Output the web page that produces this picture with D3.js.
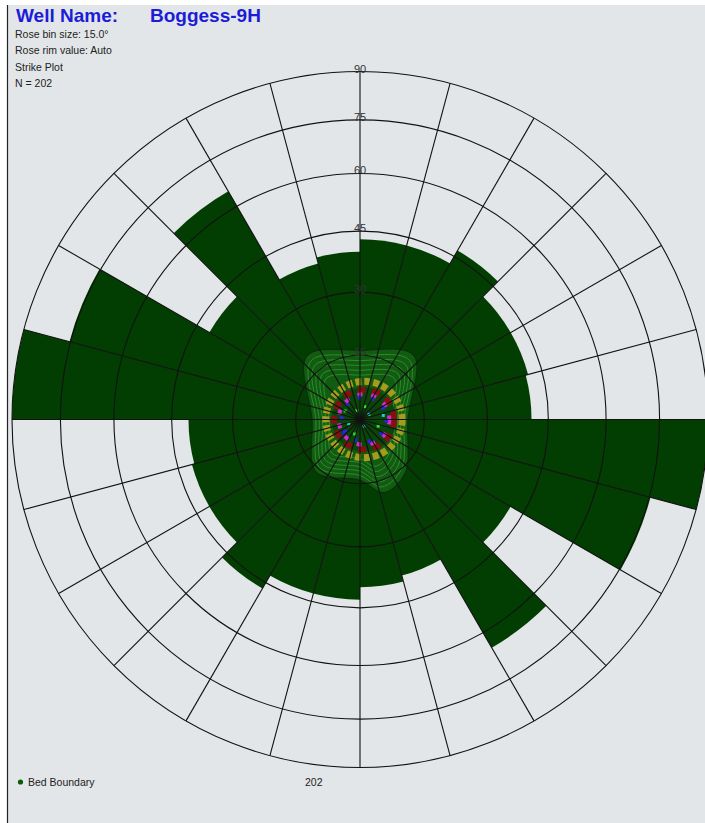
<!DOCTYPE html>
<html>
<head>
<meta charset="utf-8">
<script src="https://cdn.jsdelivr.net/npm/d3@7"></script>
<style>
body { margin: 0; background: #ffffff; }
text { font-family: "Liberation Sans", Arial, sans-serif; }
</style>
</head>
<body>
<div class="container"></div>
<script>
// strike rose, 15 degree bins (0-180, mirrored to 180-360)
const binStarts = [0, 15, 30, 45, 60, 75, 90, 105, 120, 135, 150, 165]
const binCounts = [14.5, 14.5, 15.7, 14, 14, 13.8, 28, 24.2, 14, 21.2, 13, 13.5]
const dipRings = [15, 30, 45, 60, 75, 90]
const spokeAngles = [0, 15, 30, 45, 60, 75, 90, 105, 120, 135, 150, 165,
                     180, 195, 210, 225, 240, 255, 270, 285, 300, 315, 330, 345]
const infoLines = ["Rose bin size: 15.0°", "Rose rim value: Auto", "Strike Plot", "N = 202"]

// bed boundary pole density contours (azimuth / dip of outline, then level scale)
const contourAz = [0, 40, 90, 140, 162, 180, 220, 270, 320]
const contourDip = [16.2, 19.6, 11.2, 16.4, 18.0, 14.2, 16.0, 11.2, 19.4]
const contourLevels = [1, 0.92, 0.85, 0.78, 0.71, 0.64]
const poleBands = [
    {dip: 8.9, color: "#a49c1e", width: 7, dash: "6 3"},
    {dip: 7.0, color: "#861010", width: 6, dash: "8 7"},
    {dip: 5.9, color: "#d828d0", width: 4, dash: "5 9"},
    {dip: 5.2, color: "#2626e0", width: 4, dash: "3 11"}
]
const polePoints = [[20, 3.2], [60, 2.4], [110, 4.5], [150, 1.8], [200, 3.6], [250, 2.8], [300, 4.0], [340, 2.2], [80, 5.5], [230, 5.0]]
const poleColors = ["#30e030", "#20d0d0", "#30e030", "#20d0d0", "#30e030", "#20d0d0", "#30e030", "#30e030", "#20d0d0", "#2020e0"]

const size = {WIDTH: 705, HEIGHT: 823}
const centro = {x: 360, y: 419.5}
const R = 348

const svg = d3.select(".container")
    .append("svg")
    .attr("width", size.WIDTH)
    .attr("height", size.HEIGHT)

svg.append("rect")
    .attr("x", 7)
    .attr("y", 5)
    .attr("width", size.WIDTH - 7)
    .attr("height", size.HEIGHT - 5)
    .attr("fill", "#e2e6e8")
svg.append("line")
    .attr("x1", 7.5).attr("x2", 7.5)
    .attr("y1", 5).attr("y2", size.HEIGHT)
    .attr("stroke", "#222")
    .attr("stroke-width", 1.2)

const clip = svg.append("clipPath").attr("id", "plotclip")
clip.append("rect").attr("x", 8).attr("y", 5).attr("width", size.WIDTH - 8).attr("height", size.HEIGHT - 5)

const plot = svg.append("g")
    .attr("clip-path", "url(#plotclip)")
    .append("g")
    .attr("transform", `translate(${centro.x} ${centro.y})`)

// equal-area dip scale for the rings
const dipR = (d) => R * Math.SQRT2 * Math.sin(d / 2 * Math.PI / 180)
// rose scale, rim = max bin
const rScale = d3.scaleLinear()
    .domain([0, d3.max(binCounts)])
    .range([0, R])
const rad = (a) => a * Math.PI / 180

const bins = []
binStarts.forEach((s, i) => {
    bins.push({start: s, count: binCounts[i]})
    bins.push({start: s + 180, count: binCounts[i]})
})

const arco = d3.arc().innerRadius(0)
plot.selectAll(".bar")
    .data(bins)
    .join("path")
    .attr("class", "bar")
    .attr("d", (d) => arco({outerRadius: rScale(d.count), startAngle: rad(d.start), endAngle: rad(d.start + 15)}))
    .attr("fill", "#023e02")

// pole density blob
const radial = d3.lineRadial()
    .angle((d) => rad(d[0]))
    .radius((d) => d[1])
    .curve(d3.curveCatmullRomClosed)

plot.selectAll(".contour")
    .data(contourLevels)
    .join("path")
    .attr("class", "contour")
    .attr("d", (k) => radial(contourAz.map((a, i) => [a, dipR(contourDip[i]) * k])))
    .attr("fill", (k, i) => i == 0 ? "#125c12" : "none")
    .attr("stroke", (k, i) => i == 0 ? "#0a300a" : "#2c8c2c")
    .attr("stroke-width", (k, i) => i == 0 ? 1.3 : 1)

plot.append("circle")
    .attr("r", dipR(7.5))
    .attr("cx", 4)
    .attr("fill", "#0a460a")

plot.selectAll(".band")
    .data(poleBands)
    .join("circle")
    .attr("class", "band")
    .attr("cx", 4)
    .attr("r", (d) => dipR(d.dip))
    .attr("fill", "none")
    .attr("stroke", (d) => d.color)
    .attr("stroke-width", (d) => d.width)
    .attr("stroke-dasharray", (d) => d.dash)

plot.selectAll(".pole")
    .data(polePoints)
    .join("rect")
    .attr("class", "pole")
    .attr("x", (d) => dipR(d[1]) * Math.sin(rad(d[0])) - 1.5)
    .attr("y", (d) => -dipR(d[1]) * Math.cos(rad(d[0])) - 1.5)
    .attr("width", 3)
    .attr("height", 3)
    .attr("fill", (d, i) => poleColors[i])

// grid
plot.selectAll(".ring")
    .data(dipRings)
    .join("circle")
    .attr("class", "ring")
    .attr("r", (d) => dipR(d))
    .attr("fill", "none")
    .attr("stroke", "#121212")
    .attr("stroke-width", 1.1)

plot.selectAll(".spoke")
    .data(spokeAngles)
    .join("line")
    .attr("class", "spoke")
    .attr("x1", 0).attr("y1", 0)
    .attr("x2", (d) => R * Math.sin(rad(d)))
    .attr("y2", (d) => -R * Math.cos(rad(d)))
    .attr("stroke", "#121212")
    .attr("stroke-width", 1.1)

plot.selectAll(".ringlabel")
    .data(dipRings)
    .join("text")
    .attr("class", "ringlabel")
    .text((d) => d)
    .attr("x", 0)
    .attr("y", (d) => -dipR(d) + 1)
    .attr("text-anchor", "middle")
    .attr("font-size", "11px")
    .attr("fill", "#333")

// header
svg.append("text")
    .text("Well Name:")
    .attr("x", 16).attr("y", 22)
    .attr("font-size", "19px")
    .attr("font-weight", "bold")
    .attr("fill", "#1c1cd8")
svg.append("text")
    .text("Boggess-9H")
    .attr("x", 150).attr("y", 22)
    .attr("font-size", "19px")
    .attr("font-weight", "bold")
    .attr("fill", "#1c1cd8")

svg.selectAll(".info")
    .data(infoLines)
    .join("text")
    .attr("class", "info")
    .text((d) => d)
    .attr("x", 15)
    .attr("y", (_, i) => 38 + i * 16.4)
    .attr("font-size", "10.5px")
    .attr("fill", "#222")

// legend
svg.append("circle")
    .attr("cx", 20.5).attr("cy", 782)
    .attr("r", 2.6)
    .attr("fill", "#0a5a0a")
svg.append("text")
    .text("Bed Boundary")
    .attr("x", 28).attr("y", 786)
    .attr("font-size", "10.5px")
    .attr("fill", "#222")
svg.append("text")
    .text("202")
    .attr("x", 305).attr("y", 786)
    .attr("font-size", "10.5px")
    .attr("fill", "#222")
</script>
</body>
</html>
